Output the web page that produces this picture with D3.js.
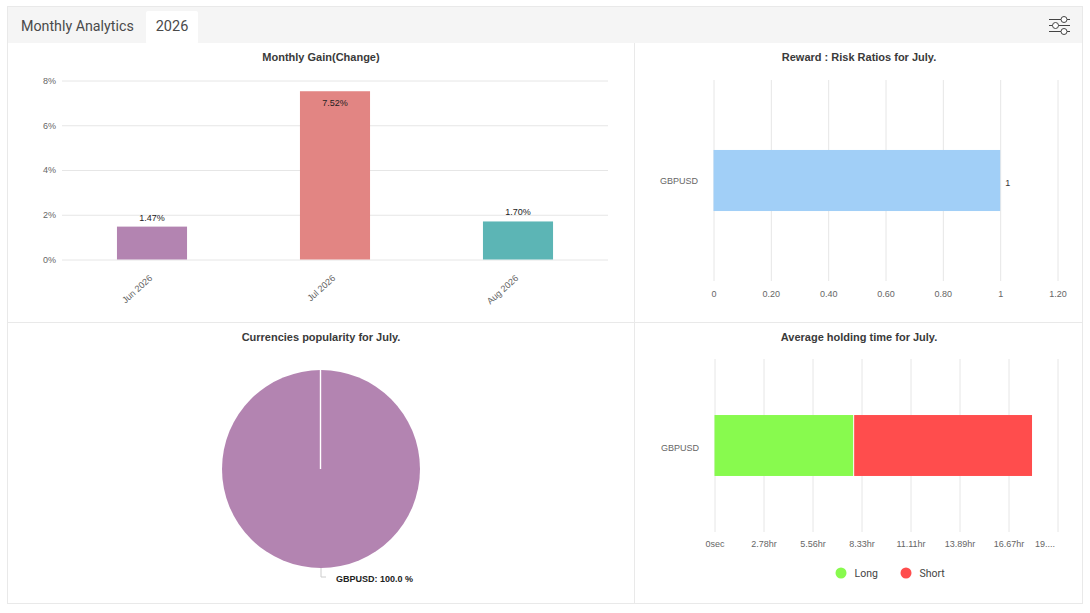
<!DOCTYPE html>
<html>
<head>
<meta charset="utf-8">
<script src="https://cdn.jsdelivr.net/npm/d3@7"></script>
<style>
  body { margin: 0; background: #fff; overflow: hidden; }
  text { font-family: "Liberation Sans", Arial, sans-serif; }
  .tick text { fill: #666; font-size: 9px; }
  .domain { display: none; }
  .tick line { stroke: #e6e6e6; }
  .title { font-size: 11px; font-weight: bold; fill: #3a3a3a; text-anchor: middle; }
</style>
</head>
<body>
<script>
// data
const months = ["Jun 2026", "Jul 2026", "Aug 2026"];
const gains = [1.47, 7.52, 1.70];
const gainColors = ["#b384b1", "#e28583", "#5cb5b5"];
const gainTicks = [0, 2, 4, 6, 8];

const symbols = ["GBPUSD"];
const ratios = [1];
const ratioTicks = [0, 0.2, 0.4, 0.6, 0.8, 1, 1.2];
const ratioLabels = ["0", "0.20", "0.40", "0.60", "0.80", "1", "1.20"];

const popularity = [100];

// holding time in seconds
const longHold = [28300];
const shortHold = [36500];
const holdTicks = [0, 10000, 20000, 30000, 40000, 50000, 60000, 70000];
const holdLabels = ["0sec", "2.78hr", "5.56hr", "8.33hr", "11.11hr", "13.89hr", "16.67hr", "19...."];

const width = 1090;
const height = 613;
const border = "#e9e9e9";

const svg = d3.select("body").append("svg").attr("width", width).attr("height", height);

// card and header
svg.append("rect").attr("x", 7.5).attr("y", 6.5).attr("width", 1075).attr("height", 597)
  .attr("fill", "#fff").attr("stroke", border);
svg.append("rect").attr("x", 8).attr("y", 7).attr("width", 1074).attr("height", 36).attr("fill", "#f5f5f5");
svg.append("rect").attr("x", 146).attr("y", 11).attr("width", 52).attr("height", 33).attr("rx", 2).attr("fill", "#fff");
svg.append("text").attr("x", 21).attr("y", 31).text("Monthly Analytics")
  .style("font-family", "Roboto").style("font-size", "14.25px").attr("fill", "#4a4a4a");
svg.append("text").attr("x", 172).attr("y", 31).attr("text-anchor", "middle").text("2026")
  .style("font-family", "Roboto").style("font-size", "14.5px").attr("fill", "#4a4a4a");

// settings icon
const icon = svg.append("g").attr("fill", "#fff").attr("stroke", "#444").attr("stroke-width", 1);
[[20, 64], [26, 55], [32, 64]].forEach(([y, cx]) => {
  icon.append("line").attr("x1", 1049).attr("x2", 1070).attr("y1", y - 0.5).attr("y2", y - 0.5);
  icon.append("circle").attr("cx", cx === 64 ? 1064 : 1055.5).attr("cy", y - 0.5).attr("r", 3);
});

// panel dividers
svg.append("line").attr("x1", 634.5).attr("x2", 634.5).attr("y1", 43).attr("y2", 603).attr("stroke", border);
svg.append("line").attr("x1", 8).attr("x2", 1082).attr("y1", 322.5).attr("y2", 322.5).attr("stroke", border);

// titles
[[321, 61, "Monthly Gain(Change)"], [859, 61, "Reward : Risk Ratios for July."],
 [321, 341, "Currencies popularity for July."], [859, 341, "Average holding time for July."]]
  .forEach(([x, y, t]) => svg.append("text").attr("class", "title").attr("x", x).attr("y", y).text(t));

// monthly gain
const gainX = d3.scaleBand().domain(months).range([60.5, 609.5]).paddingInner(0.617).paddingOuter(0.3085);
const gainY = d3.scaleLinear().domain([0, 8]).range([259.5, 80.5]);

const gainAxis = svg.append("g").attr("transform", "translate(62,0)")
  .call(d3.axisLeft(gainY).tickValues(gainTicks).tickSize(-546).tickPadding(6).tickFormat((d) => d + "%"));
gainAxis.selectAll("text").attr("x", -6);

svg.append("g").selectAll("rect").data(gains).enter().append("rect")
  .attr("x", (d, i) => gainX(months[i]))
  .attr("y", (d) => gainY(d))
  .attr("width", gainX.bandwidth())
  .attr("height", (d) => gainY(0) - gainY(d))
  .attr("fill", (d, i) => gainColors[i]);

svg.append("g").selectAll("text").data(gains).enter().append("text")
  .attr("x", (d, i) => gainX(months[i]) + gainX.bandwidth() / 2)
  .attr("y", (d) => (d > 5 ? gainY(d) + 15 : gainY(d) - 6))
  .attr("text-anchor", "middle")
  .style("font-size", "9px")
  .attr("fill", "#222")
  .text((d) => d.toFixed(2) + "%");

svg.append("g").selectAll("text").data(months).enter().append("text")
  .attr("text-anchor", "end")
  .attr("transform", (d) => `translate(${gainX(d) + gainX.bandwidth() / 2 + 1},${279}) rotate(-42)`)
  .style("font-size", "9px")
  .attr("fill", "#666")
  .text((d) => d);

// reward : risk
const ratioX = d3.scaleLinear().domain([0, 1.2]).range([713.5, 1057.5]);
const ratioY = d3.scaleBand().domain(symbols).range([80, 281]).padding(0.534);

svg.append("g").attr("transform", "translate(0,281)")
  .call(d3.axisBottom(ratioX).tickValues(ratioTicks).tickSize(-201).tickPadding(10)
    .tickFormat((d, i) => ratioLabels[i]));

svg.append("g").selectAll("rect").data(ratios).enter().append("rect")
  .attr("x", ratioX(0))
  .attr("y", (d, i) => ratioY(symbols[i]))
  .attr("width", (d) => ratioX(d) - ratioX(0))
  .attr("height", ratioY.bandwidth())
  .attr("fill", "#a1cff7");

svg.append("g").selectAll("text").data(ratios).enter().append("text")
  .attr("x", (d) => ratioX(d) + 5)
  .attr("y", 186)
  .style("font-size", "9px")
  .attr("fill", "#333")
  .text((d) => d);

svg.append("text").attr("x", 698).attr("y", 184).attr("text-anchor", "end")
  .style("font-size", "9px").attr("fill", "#666").text(symbols[0]);

// currencies pie
const pie = d3.pie().sort(null)(popularity);
const arc = d3.arc().innerRadius(0).outerRadius(99);
const pieG = svg.append("g").attr("transform", "translate(321,469)");
pieG.selectAll("path").data(pie).enter().append("path")
  .attr("d", arc)
  .attr("fill", "#b384b1");
pieG.append("line").attr("x1", -0.5).attr("x2", -0.5).attr("y1", -99).attr("y2", 0)
  .attr("stroke", "#fff").attr("stroke-width", 1.4);

svg.append("path").attr("d", "M321,568V577H326").attr("fill", "none").attr("stroke", "#ccc");
svg.append("text").attr("x", 336).attr("y", 582)
  .style("font-size", "9px").style("font-weight", "bold").attr("fill", "#222")
  .text(`${symbols[0]}: ${popularity[0].toFixed(1)} %`);

// holding time
const holdX = d3.scaleLinear().domain([0, 70000]).range([714.5, 1057.5]);
const holdY = d3.scaleBand().domain(symbols).range([359, 532]).padding(0.479);

const holdAxis = svg.append("g").attr("transform", "translate(0,532)")
  .call(d3.axisBottom(holdX).tickValues(holdTicks).tickSize(-173).tickPadding(9)
    .tickFormat((d, i) => holdLabels[i]));
// last label is cut short and pulled in from the edge
holdAxis.selectAll(".tick text").filter((d) => d === 70000).attr("dx", -13);

svg.append("g").selectAll("rect").data(longHold).enter().append("rect")
  .attr("x", holdX(0))
  .attr("y", (d, i) => holdY(symbols[i]))
  .attr("width", (d) => holdX(d) - holdX(0))
  .attr("height", holdY.bandwidth())
  .attr("fill", "#88fa4e");

svg.append("g").selectAll("rect").data(shortHold).enter().append("rect")
  .attr("x", (d, i) => holdX(longHold[i]) + 1)
  .attr("y", (d, i) => holdY(symbols[i]))
  .attr("width", (d) => holdX(d) - holdX(0) - 1)
  .attr("height", holdY.bandwidth())
  .attr("fill", "#ff4d4d");

svg.append("text").attr("x", 699).attr("y", 451).attr("text-anchor", "end")
  .style("font-size", "9px").attr("fill", "#666").text(symbols[0]);

// legend
[[841, "#88fa4e", "Long"], [906, "#ff4d4d", "Short"]].forEach(([x, c, t]) => {
  svg.append("circle").attr("cx", x).attr("cy", 573).attr("r", 5.5).attr("fill", c);
  svg.append("text").attr("x", x + 13.5).attr("y", 577)
    .style("font-family", "Roboto").style("font-size", "10.5px").attr("fill", "#444").text(t);
});
</script>
</body>
</html>
